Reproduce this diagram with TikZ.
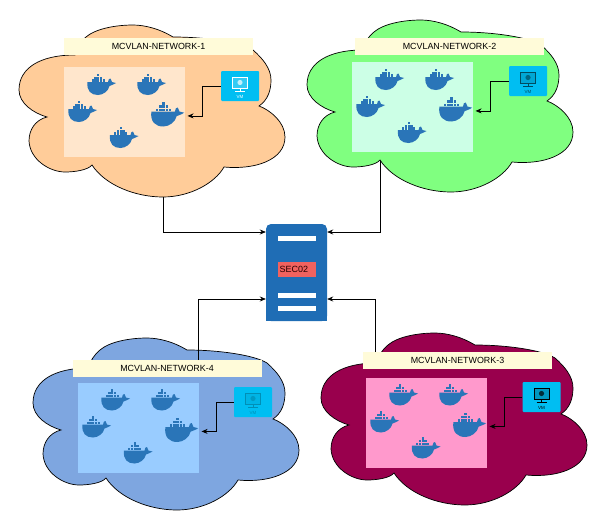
\documentclass[tikz,border=0pt]{standalone}
\usepackage{fontspec}
\setmainfont{Liberation Sans}
\usepackage{tikz}
\usetikzlibrary{arrows.meta}
\definecolor{cloudpeach}{HTML}{FFCC99}
\definecolor{boxpeach}{HTML}{FFE6CC}
\definecolor{cloudgreen}{HTML}{80FF80}
\definecolor{boxgreen}{HTML}{CCFFE6}
\definecolor{cloudwine}{HTML}{99004D}
\definecolor{boxpink}{HTML}{FF99CC}
\definecolor{cloudblue}{HTML}{7EA6E0}
\definecolor{boxblue}{HTML}{99CCFF}
\definecolor{labelcream}{HTML}{FFFBD9}
\definecolor{vmcyan}{HTML}{00BEF2}
\definecolor{whaleblue}{HTML}{2A75B8}
\definecolor{serverblue}{HTML}{1F6DB5}
\definecolor{secred}{HTML}{F0625F}
\tikzset{
  netlabel/.style={fill=labelcream, minimum width=189pt, minimum height=17pt, inner sep=0pt, font=\fontsize{8.9}{10}\selectfont},
  netbox/.style={minimum width=121pt, minimum height=90pt, inner sep=0pt},
  vmbox/.style={fill=vmcyan, rounded corners=1pt, minimum width=38pt, minimum height=30pt, inner sep=0pt},
  serverbar/.style={fill=white, minimum width=38pt, minimum height=5pt, inner sep=0pt},
  conn/.style={draw=black, line width=0.7pt, -{Stealth[length=6pt,width=5pt]}},
  pics/netcloud/.style={code={
    \draw[fill=#1, draw=black, line width=0.7pt] (75,55) .. controls (40,55) and (19,68) .. (19,90)
      .. controls (19,103) and (33,113) .. (47,117) .. controls (35,120) and (29,130) .. (29,141)
      .. controls (30,160) and (50,172) .. (65,172) .. controls (75,172) and (88,170) .. (92,165)
      .. controls (105,185) and (135,197) .. (163,197) .. controls (190,197) and (215,183) .. (224,167)
      .. controls (255,170) and (285,160) .. (285,137) .. controls (285,122) and (270,110) .. (259,106)
      .. controls (268,100) and (271,90) .. (271,80) .. controls (271,68) and (262,58) .. (253,50)
      .. controls (240,42) and (205,37) .. (173,37) .. controls (160,29) and (145,25) .. (133,25)
      .. controls (115,25) and (95,29) .. (86,37) .. controls (80,42) and (76,48) .. (75,55) -- cycle;
  }},
  pics/whale/.style={code={
    \fill[whaleblue] (-14.5,-3) -- (6,-3) .. controls (6.2,-5.5) and (7.5,-7) .. (8.5,-6.5) .. controls (9.5,-5.5) and (10,-4.5) .. (10,-3)
      -- (14,-2) .. controls (11.5,0) and (9,0) .. (7.5,1) .. controls (6.5,6) and (1,10) .. (-4,10)
      .. controls (-11,10) and (-15.5,6) .. (-14.5,-3) -- cycle;
    \foreach \bx in {-10.5,-7.7,-4.9,-2.1,0.7} \fill[whaleblue] (\bx,-5.6) rectangle ++(2.2,2.2);
    \foreach \bx in {-7.7,-4.9,-2.1} \fill[whaleblue] (\bx,-8.4) rectangle ++(2.2,2.2);
    \fill[whaleblue] (-4.9,-11.2) rectangle ++(2.2,2.2);
    \coordinate (-tip) at (17,0.8);
  }},
  pics/vmicon/.style={code={
    \draw[#1, fill=#1, fill opacity=0.2, line width=1pt] (-7.5,-9) rectangle (7.5,2);
    \fill[#1, opacity=0.7] (0,-3.5) circle (2.6pt);
    \draw[#1, line width=1pt] (0,2) -- (0,5) (-5,5) -- (5,5);
    \node[text=#1, font=\fontsize{4.5}{5}\selectfont, inner sep=0pt] (-txt) at (0,11) {VM};
  }}
}
\newcommand{\whalegroup}[1]{
  \foreach \wx/\wy in {-22.5/-27, 27.5/-27, -41.5/0, 0/26} \pic at ([shift={(\wx,\wy)}]#1.center) {whale};
  \pic[scale=1.15] (#1big) at ([shift={(43.5,3)}]#1.center) {whale};
}

\begin{document}
\begin{tikzpicture}[x=1pt, y=-1pt]
  \useasboundingbox (0,0) rectangle (597,522);

  \pic at (0,0) {netcloud=cloudpeach};
  \pic at (288,-5) {netcloud=cloudgreen};
  \pic at (14,313) {netcloud=cloudblue};
  \pic at (302,308) {netcloud=cloudwine};

  % server in the middle
  \node[fill=serverblue, minimum width=61pt, minimum height=97pt, inner sep=0pt, rounded corners=5pt] (srv) at (296.5,272.5) {};
  \fill[serverblue] (266,300) rectangle (327,321);
  \node[serverbar] (bara) at (297,238.5) {};
  \node[serverbar] (barb) at (297,295.5) {};
  \node[serverbar] (barc) at (297,308) {};
  \node[fill=secred, text width=37pt, align=left, minimum height=15pt, inner xsep=0.5pt, inner ysep=0pt, font=\fontsize{9}{10}\selectfont, text=black!85!red] (sec) at (297,269.5) {\hspace*{1pt}SEC02};

  \node[netbox, fill=boxpeach] (boxa) at (124.5,112) {};
  \node[netbox, fill=boxgreen] (boxb) at (412.5,107) {};
  \node[netbox, fill=boxblue] (boxd) at (138.5,427.5) {};
  \node[netbox, fill=boxpink] (boxc) at (426.5,422.5) {};
  \whalegroup{boxa}
  \whalegroup{boxb}
  \whalegroup{boxd}
  \whalegroup{boxc}

  \node[netlabel] (laba) at (158.5,46.5) {MCVLAN-NETWORK-1};
  \node[netlabel] (labb) at (449.5,46.5) {MCVLAN-NETWORK-2};
  \node[netlabel] (labd) at (167,368.5) {MCVLAN-NETWORK-4};
  \node[netlabel] (labc) at (457.5,360) {MCVLAN-NETWORK-3};

  \node[vmbox] (vma) at (240,86) {};
  \node[vmbox] (vmb) at (528,81) {};
  \node[vmbox] (vmd) at (253,402) {};
  \node[vmbox] (vmc) at (541.5,397) {};
  \pic at (vma) {vmicon=white};
  \pic at (vmb) {vmicon=black!60!vmcyan};
  \pic at (vmd) {vmicon=black!25!vmcyan};
  \pic at (vmc) {vmicon=black};

  % VM into its container
  \draw[conn] (vma.west) -- ++(-18,0) |- (boxabig-tip);
  \draw[conn] (vmb.west) -- ++(-18,0) |- (boxbbig-tip);
  \draw[conn] (vmd.west) -- ++(-17,0) |- (boxdbig-tip);
  \draw[conn] (vmc.west) -- ++(-18,0) |- (boxcbig-tip);

  % clouds into the server
  \coordinate (cloudaout) at (163,197);
  \coordinate (cloudbout) at (380,161);
  \coordinate (clouddout) at (198.5,360);
  \coordinate (cloudcout) at (375.5,352);
  \draw[conn] (cloudaout) |- ([yshift=40.5pt]srv.west);
  \draw[conn] (cloudbout) |- ([yshift=40.5pt]srv.east);
  \draw[conn] (clouddout) |- ([yshift=-26.5pt]srv.west);
  \draw[conn] (cloudcout) |- ([yshift=-26.5pt]srv.east);
\end{tikzpicture}
\end{document}
